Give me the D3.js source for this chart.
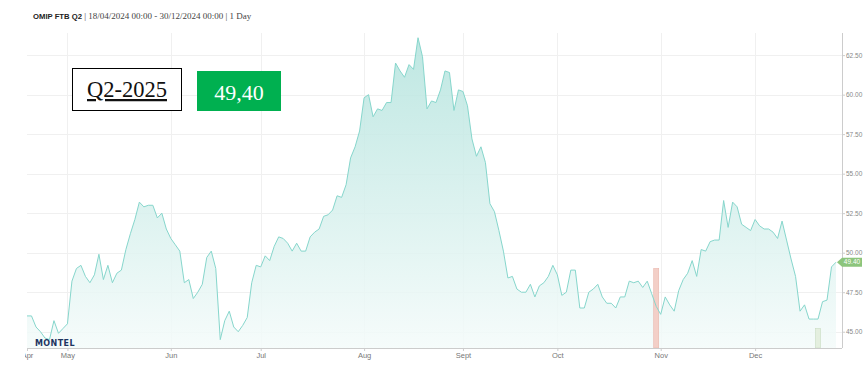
<!DOCTYPE html>
<html>
<head>
<meta charset="utf-8">
<script src="https://cdn.jsdelivr.net/npm/d3@7"></script>
<style>
  body { margin: 0; background: #fff; }
  svg { display: block; }
</style>
</head>
<body>
<div id="chart"></div>
<script>
// Daily settlement prices (EUR/MWh), one per trading day, grouped by month
const aprPrices = [46.0, 46.0, 45.3, 45.0, 44.6, 44.5, 45.7, 44.9, 45.2];
const mayPrices = [45.5, 48.2, 49.0, 49.2, 48.5, 48.1, 48.6, 49.9, 48.3, 49.2, 48.1, 48.7, 48.9, 50.2, 51.2, 52.1, 53.2, 52.9, 53.0, 53.0, 52.2, 52.5, 51.5];
const junPrices = [50.9, 50.5, 50.1, 48.1, 48.3, 47.1, 47.5, 48.0, 49.7, 50.1, 49.0, 44.5, 45.7, 46.3, 45.3, 45.0, 45.4, 45.9, 48.1, 49.2];
const julPrices = [49.1, 49.8, 49.5, 50.4, 51.0, 50.9, 50.6, 50.1, 50.6, 50.1, 50.1, 51.0, 51.3, 51.5, 52.3, 52.4, 52.7, 53.6, 53.5, 54.3, 56.0, 56.7, 57.7];
const augPrices = [59.8, 60.0, 58.6, 59.1, 59.0, 59.5, 59.5, 62.0, 61.5, 61.1, 61.9, 61.6, 63.6, 62.4, 59.1, 59.6, 59.5, 60.3, 61.5, 61.4, 59.0, 60.3];
const sepPrices = [60.2, 59.3, 57.2, 56.1, 56.7, 55.7, 53.1, 52.6, 51.4, 50.1, 48.4, 48.5, 47.7, 47.5, 47.5, 48.0, 47.2, 47.9, 48.1, 48.5, 49.2];
const octPrices = [48.6, 47.3, 47.5, 48.9, 48.9, 46.5, 46.5, 47.5, 47.7, 48.0, 47.2, 46.8, 46.8, 46.5, 47.2, 47.2, 48.2, 48.1, 48.2, 47.8, 48.2, 47.4, 46.6];
const novPrices = [46.1, 47.2, 46.7, 46.3, 47.6, 48.3, 48.7, 49.5, 48.5, 50.2, 50.1, 50.7, 50.8, 50.8, 53.3, 51.6, 53.2, 52.9, 51.8, 51.6, 51.4];
const decPrices = [52.1, 51.7, 51.5, 51.5, 51.3, 50.9, 52.0, 50.8, 49.6, 48.5, 46.3, 46.7, 45.8, 45.8, 45.8, 46.9, 47.0, 49.1, 49.4];

const monthLabels = ["Apr", "May", "Jun", "Jul", "Aug", "Sept", "Oct", "Nov", "Dec"];
const yTicks = [45, 47.5, 50, 52.5, 55, 57.5, 60, 62.5];
const holidays = ["2024-12-25", "2024-12-26"];

// event markers: [date, level]
const markers = [
    { date: "2024-10-31", level: 49.0, color: "#f3cfc7", stroke: "#e9b5ab" },
    { date: "2024-12-20", level: 45.2, color: "#e4efdf", stroke: "#c9dcc2" }
];

const contractName = "OMIP FTB Q2";
const contractLabel = "Q2-2025";
const lastPriceText = "49,40";

// trading calendar (weekdays minus holidays)
const fmt = d3.utcFormat("%Y-%m-%d");
const days = d3.utcDays(new Date(Date.UTC(2024, 3, 18)), new Date(Date.UTC(2024, 11, 31)))
    .filter(d => d.getUTCDay() !== 0 && d.getUTCDay() !== 6 && !holidays.includes(fmt(d)));

const prices = [].concat(aprPrices, mayPrices, junPrices, julPrices, augPrices, sepPrices, octPrices, novPrices, decPrices);
const data = prices.map((v, i) => ({ i: i, date: days[i], key: fmt(days[i]), value: v }));

// month ticks = first trading day of each month
const monthTicks = [];
data.forEach((d, i) => {
    if (i === 0 || d.date.getUTCMonth() !== data[i - 1].date.getUTCMonth()) monthTicks.push(i);
});

const width = 865, height = 376;
const svg = d3.select("#chart").append("svg")
    .attr("width", width)
    .attr("height", height);

const plotLeft = 27, plotRight = 842, plotTop = 33, plotBottom = 348;

const x = d3.scaleLinear()
    .domain([0, data.length - 1])
    .range([27, 836]);

const y = d3.scaleLinear()
    .domain([43.97, 63.9])
    .range([plotBottom, plotTop]);

// title
const title = svg.append("text")
    .attr("x", 33)
    .attr("y", 18.5)
    .style("fill", "#222");
title.append("tspan")
    .style("font-family", "Liberation Sans, Arial, sans-serif")
    .style("font-weight", "bold")
    .style("font-size", "7.7px")
    .text(contractName + " ");
title.append("tspan")
    .style("font-family", "Liberation Serif, serif")
    .style("font-size", "9px")
    .style("fill", "#444")
    .text("| 18/04/2024 00:00 - 30/12/2024 00:00 | 1 Day");

// gridlines
svg.append("g")
    .selectAll("line")
    .data(yTicks)
    .join("line")
    .attr("x1", plotLeft)
    .attr("x2", plotRight)
    .attr("y1", d => Math.round(y(d)) + 0.5)
    .attr("y2", d => Math.round(y(d)) + 0.5)
    .attr("stroke", "#f0f0f0");

svg.append("g")
    .selectAll("line")
    .data(monthTicks.slice(1))
    .join("line")
    .attr("x1", d => Math.round(x(d)) + 0.5)
    .attr("x2", d => Math.round(x(d)) + 0.5)
    .attr("y1", plotTop)
    .attr("y2", plotBottom)
    .attr("stroke", "#f0f0f0");

// area gradient
const defs = svg.append("defs");
const grad = defs.append("linearGradient")
    .attr("id", "areaGrad")
    .attr("gradientUnits", "userSpaceOnUse")
    .attr("x1", 0).attr("x2", 0)
    .attr("y1", y(d3.max(prices))).attr("y2", plotBottom);
grad.append("stop").attr("offset", "0%").attr("stop-color", "#b3e3dd");
grad.append("stop").attr("offset", "100%").attr("stop-color", "#f4fbfa");

defs.append("clipPath").attr("id", "xlabClip")
    .append("rect").attr("x", 25).attr("y", plotBottom - 2).attr("width", 840).attr("height", 30);

// area
svg.append("path")
    .datum(data)
    .attr("fill", "url(#areaGrad)")
    .attr("fill-opacity", 0.85)
    .attr("d", d3.area()
        .x(d => x(d.i))
        .y0(plotBottom)
        .y1(d => y(d.value)));

// markers (bars above the area, below the line)
const barW = 5;
svg.append("g")
    .selectAll("rect")
    .data(markers)
    .join("rect")
    .attr("x", d => x(data.find(p => p.key === d.date).i) - barW / 2)
    .attr("y", d => y(d.level))
    .attr("width", barW)
    .attr("height", d => plotBottom - y(d.level))
    .attr("fill", d => d.color)
    .attr("stroke", d => d.stroke)
    .attr("stroke-width", 0.6);

// line
svg.append("path")
    .datum(data)
    .attr("fill", "none")
    .attr("stroke", "#86d6cc")
    .attr("stroke-width", 1)
    .attr("d", d3.line()
        .x(d => x(d.i))
        .y(d => y(d.value)));

// bottom axis (wrapped so the clip is in page coordinates)
const xWrap = svg.append("g").attr("clip-path", "url(#xlabClip)");
const xAxis = xWrap.append("g")
    .attr("transform", `translate(0,${plotBottom})`)
    .call(d3.axisBottom(x)
        .tickValues(monthTicks)
        .tickFormat((d, i) => monthLabels[i])
        .tickSize(3)
        .tickSizeOuter(0));
xAxis.select(".domain").attr("d", `M${plotLeft},0.5H${plotRight}`).attr("stroke", "#ccc");
xAxis.selectAll(".tick line").attr("stroke", "#ccc");
xAxis.selectAll("text")
    .attr("y", 5)
    .style("font-family", "Liberation Sans Narrow, Liberation Sans, Arial, sans-serif")
    .style("font-size", "7.5px")
    .style("fill", "#777");

// right axis
const yAxis = svg.append("g")
    .attr("transform", `translate(${plotRight},0)`)
    .call(d3.axisRight(y)
        .tickValues(yTicks)
        .tickFormat(d3.format(".2f"))
        .tickSize(3)
        .tickSizeOuter(0));
yAxis.select(".domain").attr("d", `M0.5,${plotTop}V${plotBottom}`).attr("stroke", "#ccc");
yAxis.selectAll(".tick line").attr("stroke", "#ccc");
yAxis.selectAll("text")
    .attr("x", 4)
    .style("font-family", "Liberation Sans Narrow, Liberation Sans, Arial, sans-serif")
    .style("font-size", "6.5px")
    .style("fill", "#888");

// last value flag
const last = data[data.length - 1];
const fy = y(last.value);
svg.append("path")
    .attr("d", `M837,${fy} L842,${fy - 4.5} H862 V${fy + 4.5} H842 Z`)
    .attr("fill", "#8cc57c");
svg.append("text")
    .attr("x", 852)
    .attr("y", fy + 2.2)
    .attr("text-anchor", "middle")
    .style("font-family", "Liberation Sans Narrow, Liberation Sans, Arial, sans-serif")
    .style("font-size", "6.5px")
    .style("fill", "#fff")
    .text(d3.format(".2f")(last.value));

// MONTEL logo
svg.append("text")
    .attr("x", 35)
    .attr("y", 345.5)
    .style("font-family", "DejaVu Sans, sans-serif")
    .style("font-weight", "bold")
    .style("font-size", "8px")
    .style("letter-spacing", "0.4px")
    .style("fill", "#1d3461")
    .text("MONTEL");

// contract label box
svg.append("rect")
    .attr("x", 72.5).attr("y", 68.5)
    .attr("width", 109).attr("height", 42)
    .attr("fill", "#fff")
    .attr("stroke", "#000")
    .attr("stroke-width", 1);
svg.append("text")
    .attr("x", 127)
    .attr("y", 97)
    .attr("text-anchor", "middle")
    .style("font-family", "Liberation Serif, serif")
    .style("font-size", "22.5px")
    .style("text-decoration", "underline")
    .style("fill", "#111")
    .text(contractLabel);

// last price box
svg.append("rect")
    .attr("x", 197).attr("y", 71)
    .attr("width", 84).attr("height", 40)
    .attr("fill", "#00b050");
svg.append("text")
    .attr("x", 239)
    .attr("y", 99.5)
    .attr("text-anchor", "middle")
    .style("font-family", "Liberation Serif, serif")
    .style("font-size", "22px")
    .style("fill", "#fff")
    .text(lastPriceText);
</script>
</body>
</html>
